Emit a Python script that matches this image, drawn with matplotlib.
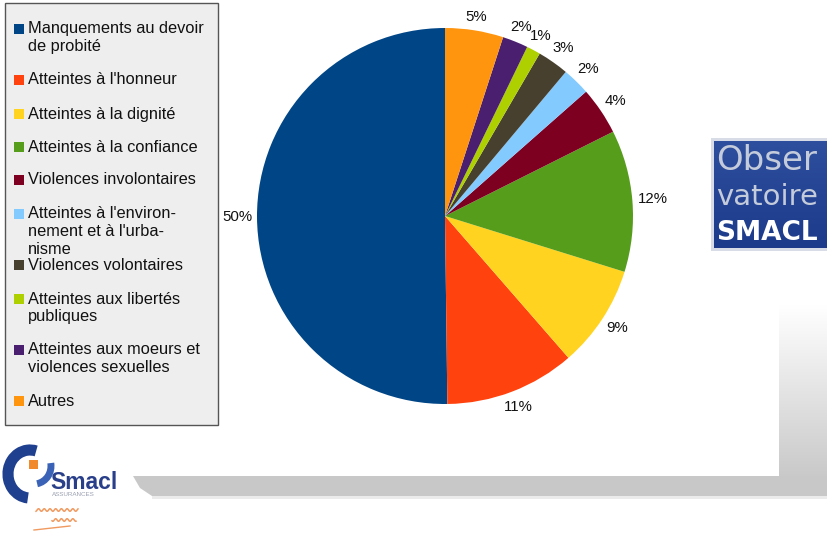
import numpy as np
import matplotlib
matplotlib.use('Agg')
import matplotlib.pyplot as plt
from matplotlib.patches import Rectangle, Polygon, Arc

plt.rcParams['font.family'] = ['Liberation Sans', 'DejaVu Sans']

W, H = 828, 541

categories = [
    "Manquements au devoir\nde probité",
    "Atteintes à l'honneur",
    "Atteintes à la dignité",
    "Atteintes à la confiance",
    "Violences involontaires",
    "Atteintes à l'environ-\nnement et à l'urba-\nnisme",
    "Violences volontaires",
    "Atteintes aux libertés\npubliques",
    "Atteintes aux moeurs et\nviolences sexuelles",
    "Autres",
]
# shares in percent (labels are rounded to whole numbers)
shares = [50.2, 11.2, 8.8, 12.2, 4.1, 2.4, 2.7, 1.2, 2.2, 5.0]
colors = ["#004586", "#ff420e", "#ffd320", "#579d1c", "#7e0021",
          "#83caff", "#48402f", "#aecf00", "#4b1f6f", "#ff950e"]

fig = plt.figure(figsize=(W / 100, H / 100), dpi=100)

# background layer in pixel coordinates
bg = fig.add_axes([0, 0, 1, 1])
bg.set_xlim(0, W)
bg.set_ylim(H, 0)
bg.axis('off')

# grey frame at the bottom right
grad = np.linspace(1.0, 0.79, 200)[:, None] * np.ones((1, 10))
bg.imshow(np.dstack([grad] * 3), extent=(779, W, 476, 305), aspect='auto', zorder=0)
bg.add_patch(Polygon([(133, 476), (W, 476), (W, 496), (152, 496), (140, 488)],
                     closed=True, fc="#c8c8c8", ec="none", zorder=1))
bg.add_patch(Rectangle((152, 496), W - 152, 3, fc="#ebebeb", ec="none", zorder=1))

# legend box, one text per line so every line sits on its own baseline
bg.add_patch(Rectangle((5, 3), 213, 422, fc="#eeeeee", ec="#555555", lw=1.0, zorder=2))
rows = [28, 79, 113, 146, 179, 213, 264, 298, 349, 400]
line_h = 17.7
for lab, col, y in zip(categories, colors, rows):
    bg.add_patch(Rectangle((14, y - 4), 10, 10, fc=col, ec="none", zorder=3))
    for i, part in enumerate(lab.split("\n")):
        bg.text(28, y + 5.5 + i * line_h, part, fontsize=11.8, va='baseline',
                ha='left', color="#111111", zorder=3)

# "Observatoire SMACL" badge
bg.add_patch(Rectangle((711, 138), 117, 113, fc="#d8dce6", ec="none", zorder=2))
blue = np.linspace(0.0, 1.0, 100)[:, None] * np.ones((1, 10))
badge = np.dstack([0.18 - 0.07 * blue, 0.31 - 0.08 * blue, 0.62 - 0.08 * blue])
bg.imshow(badge, extent=(714, W, 248, 141), aspect='auto', zorder=3)
bg.text(716, 170, "Obser", fontsize=24.5, family='DejaVu Sans', color="#c4cbdb",
        va='baseline', ha='left', zorder=4)
bg.text(716, 205, "vatoire", fontsize=21, family='DejaVu Sans', color="#c4cbdb",
        va='baseline', ha='left', zorder=4)
bg.text(716, 240, "SMACL", fontsize=19, family='DejaVu Sans', color="white",
        weight='bold', va='baseline', ha='left', zorder=4)

# SMACL logo at bottom left
bg.add_patch(Arc((30, 474), 44, 48, theta1=95, theta2=285, lw=8, color="#1f3f8f", zorder=3))
bg.add_patch(Arc((34, 466), 34, 36, theta1=-10, theta2=80, lw=5, color="#3a63b8", zorder=3))
bg.add_patch(Rectangle((29, 460), 9, 9, fc="#f08a2c", ec="none", zorder=4))
bg.text(50, 489, "Smacl", fontsize=16.5, weight='bold', color="#2a3f8a",
        va='baseline', ha='left', zorder=4)
bg.text(52, 495, "ASSURANCES", fontsize=4.5, color="#9aa0b0", va='center',
        ha='left', zorder=4)
xs = np.linspace(36, 78, 80)
bg.plot(xs, 510 + 1.3 * np.sin(xs * 1.1), color="#f09a60", lw=1.1, zorder=4)
xs = np.linspace(52, 76, 50)
bg.plot(xs, 520 + 1.3 * np.sin(xs * 1.1), color="#f09a60", lw=1.1, zorder=4)
bg.plot([34, 70], [530, 526], color="#f09a60", lw=1, zorder=4)

# pie chart: centre (445, 216), radius 188 px
cx, cy, r = 445, 216, 188
ax = fig.add_axes([(cx - r) / W, (H - cy - r) / H, 2 * r / W, 2 * r / H])
ax.pie(shares, colors=colors, startangle=90, counterclock=True,
       radius=1.0, wedgeprops=dict(linewidth=0))
total = sum(shares)
theta = 90.0
for v in shares:
    mid = np.deg2rad(theta + v / total * 180.0)
    theta += v / total * 360.0
    lab = f"{v:.0f}%"
    hw = (8.3 * (len(lab) - 1) + 13.3) / 2  # half width of the label in px
    dist = r + 5 + abs(np.cos(mid)) * hw + abs(np.sin(mid)) * 7
    ax.text(dist / r * np.cos(mid), dist / r * np.sin(mid), lab, fontsize=10.8,
            ha='center', va='center', color="#111111")
ax.set_xlim(-1, 1)
ax.set_ylim(-1, 1)
ax.set_aspect('equal')
ax.axis('off')

fig.savefig("out.png", dpi=100)
